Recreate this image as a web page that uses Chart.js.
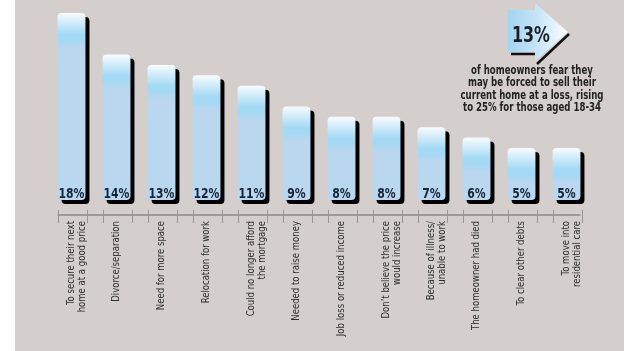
<!DOCTYPE html>
<html>
<head>
<meta charset="utf-8">
<script src="https://cdn.jsdelivr.net/npm/chart.js@4.4.1/dist/chart.umd.min.js"></script>
<style>
  html, body { margin: 0; padding: 0; }
  #wrap {
    width: 624px; height: 351px; position: relative;
    background: linear-gradient(to right, #ffffff 15px, #d4cfcc 15px);
  }
</style>
</head>
<body>
<div id="wrap"><canvas id="reasonsChart"></canvas></div>
<script>
// reasons homeowners might sell at a loss
const reasons = [
  ["To secure their next", "home at a good price"],
  "Divorce/separation",
  "Need for more space",
  "Relocation for work",
  ["Could no longer afford", "the mortgage"],
  "Needed to raise money",
  "Job loss or reduced income",
  ["Don\u2019t believe the price", "would increase"],
  ["Because of illness/", "unable to work"],
  "The homeowner had died",
  "To clear other debts",
  ["To move into", "residential care"]
];
const shares = [18, 14, 13, 12, 11, 9, 8, 8, 7, 6, 5, 5];

const headlineValue = "13%";
const headlineText = [
  "of homeowners fear they",
  "may be forced to sell their",
  "current home at a loss, rising",
  "to 25% for those aged 18-34"
];

const narrow = '"DejaVu Sans Condensed", "DejaVu Sans", sans-serif';

// the original uses a narrow DIN-like face, so text gets squeezed to fit
function squeezeFor(ctx, font, sample, targetWidth) {
  ctx.save();
  ctx.font = font;
  const w = ctx.measureText(sample).width;
  ctx.restore();
  return Math.min(1, targetWidth / w);
}

function drawSqueezed(ctx, text, x, y, sx) {
  ctx.save();
  ctx.translate(x, y);
  ctx.scale(sx, 1);
  ctx.fillText(text, 0, 0);
  ctx.restore();
}

function barGradient(context) {
  const chart = context.chart;
  const y = chart.scales.y;
  if (!y || !context.parsed) return '#bad7ef';
  const top = y.getPixelForValue(context.parsed.y);
  const base = y.getPixelForValue(0);
  if (!isFinite(top) || !isFinite(base)) return '#bad7ef';
  const h = Math.max(base - top, 1);
  const g = chart.ctx.createLinearGradient(0, top, 0, base);
  const at = px => Math.min(px / h, 1);
  g.addColorStop(0, '#f7fcff');
  g.addColorStop(at(21), '#a3daf5');
  g.addColorStop(at(27), '#a6d8f3');
  g.addColorStop(at(34), '#bad7ef');
  g.addColorStop(1, '#b9d7f0');
  return g;
}

// black drop shadow under the bars + labels at the foot of each bar
const barDecor = {
  id: 'barDecor',
  beforeDatasetsDraw(chart) {
    const ctx = chart.ctx;
    ctx.save();
    ctx.shadowColor = '#000';
    ctx.shadowBlur = 0;
    ctx.shadowOffsetX = 4;
    ctx.shadowOffsetY = 4;
  },
  afterDatasetsDraw(chart) {
    const ctx = chart.ctx;
    ctx.restore();
    const meta = chart.getDatasetMeta(0);
    const font = 'bold 14px ' + narrow;
    const sx = squeezeFor(ctx, font, '18%', 26);
    ctx.save();
    ctx.fillStyle = '#17253a';
    ctx.font = font;
    ctx.textAlign = 'center';
    ctx.textBaseline = 'alphabetic';
    meta.data.forEach((bar, i) => {
      drawSqueezed(ctx, shares[i] + '%', bar.x, bar.base - 2, sx);
    });
    ctx.restore();
  }
};

// axis line with a tick at each bar edge
const axisDecor = {
  id: 'axisDecor',
  beforeDraw(chart) {
    // rotated tick labels: shorten them along their length, anchored on the axis
    const xs = chart.scales.x;
    if (xs._squeezed) return;
    xs._squeezed = true;
    const orig = xs.drawLabels;
    xs.drawLabels = function (area) {
      const c = this.ctx;
      const f = this.options.ticks.font;
      const s = squeezeFor(c, f.size + 'px ' + f.family, 'To secure their next', 84);
      const top = this.top;
      const bottom = this.bottom;
      // the label clip box gets squeezed too, so stretch it back out
      this.bottom = top + (bottom - top) / s;
      c.save();
      c.translate(0, top);
      c.scale(1, s);
      c.translate(0, -top);
      orig.call(this, area);
      c.restore();
      this.bottom = bottom;
    };
  },
  afterDraw(chart) {
    const ctx = chart.ctx;
    const meta = chart.getDatasetMeta(0);
    const yAxis = chart.chartArea.bottom;
    const first = meta.data[0], last = meta.data[meta.data.length - 1];
    ctx.save();
    ctx.strokeStyle = '#8c8886';
    ctx.lineWidth = 1.5;
    ctx.beginPath();
    ctx.moveTo(first.x - first.width / 2, yAxis);
    ctx.lineTo(last.x + last.width / 2, yAxis);
    ctx.stroke();
    ctx.lineWidth = 1;
    ctx.strokeStyle = '#9a9693';
    meta.data.forEach(bar => {
      [bar.x - bar.width / 2, bar.x + bar.width / 2 + 2].forEach(x => {
        ctx.beginPath();
        ctx.moveTo(Math.round(x) + 0.5, yAxis - 5);
        ctx.lineTo(Math.round(x) + 0.5, yAxis + 8);
        ctx.stroke();
      });
    });
    ctx.restore();
  }
};

// arrow with the headline figure, top right
const headline = {
  id: 'headline',
  afterDraw(chart) {
    const ctx = chart.ctx;
    ctx.save();
    const g = ctx.createLinearGradient(508, 0, 570, 0);
    g.addColorStop(0, '#a2d4f1');
    g.addColorStop(0.45, '#c4e4f7');
    g.addColorStop(1, '#ffffff');
    // shadow edges
    ctx.strokeStyle = '#111';
    ctx.lineWidth = 2.5;
    ctx.beginPath();
    ctx.moveTo(511, 54);
    ctx.lineTo(538, 54);
    ctx.moveTo(537, 64);
    ctx.lineTo(569, 34);
    ctx.stroke();
    ctx.fillStyle = g;
    ctx.beginPath();
    ctx.moveTo(508, 10);
    ctx.lineTo(535, 10);
    ctx.lineTo(535, 3);
    ctx.lineTo(568, 32);
    ctx.lineTo(535, 61);
    ctx.lineTo(535, 52);
    ctx.lineTo(508, 52);
    ctx.closePath();
    ctx.fill();
    ctx.textAlign = 'center';
    ctx.textBaseline = 'alphabetic';
    ctx.fillStyle = '#1b1f26';
    const bigFont = 'bold 22px ' + narrow;
    ctx.font = bigFont;
    drawSqueezed(ctx, headlineValue, 531, 42, squeezeFor(ctx, bigFont, headlineValue, 38));
    ctx.fillStyle = '#222';
    const smallFont = 'bold 12.5px ' + narrow;
    ctx.font = smallFont;
    const sx = squeezeFor(ctx, smallFont, headlineText[2], 143);
    headlineText.forEach((line, i) => {
      drawSqueezed(ctx, line, 532, 74 + i * 12.3, sx);
    });
    ctx.restore();
  }
};

const ctx = document.getElementById('reasonsChart').getContext('2d');
new Chart(ctx, {
  type: 'bar',
  data: {
    labels: reasons,
    datasets: [{
      data: shares,
      backgroundColor: barGradient,
      borderWidth: 0,
      borderRadius: 4,
      borderSkipped: false,
      barPercentage: 0.62,
      categoryPercentage: 1
    }]
  },
  options: {
    responsive: true,
    maintainAspectRatio: false,
    animation: false,
    layout: { padding: { left: 49, right: 35, top: 0, bottom: 0 } },
    plugins: { legend: { display: false }, tooltip: { enabled: false } },
    scales: {
      x: {
        border: { display: false },
        grid: { display: false, drawTicks: false },
        ticks: {
          minRotation: 90,
          maxRotation: 90,
          autoSkip: false,
          padding: 7,
          color: '#2e2e2e',
          font: { family: narrow, size: 11, lineHeight: 1 }
        },
        afterFit(scale) { scale.height = 136; }
      },
      y: {
        display: false,
        min: -1.45,
        max: 19.25
      }
    }
  },
  plugins: [barDecor, axisDecor, headline]
});
</script>
</body>
</html>
